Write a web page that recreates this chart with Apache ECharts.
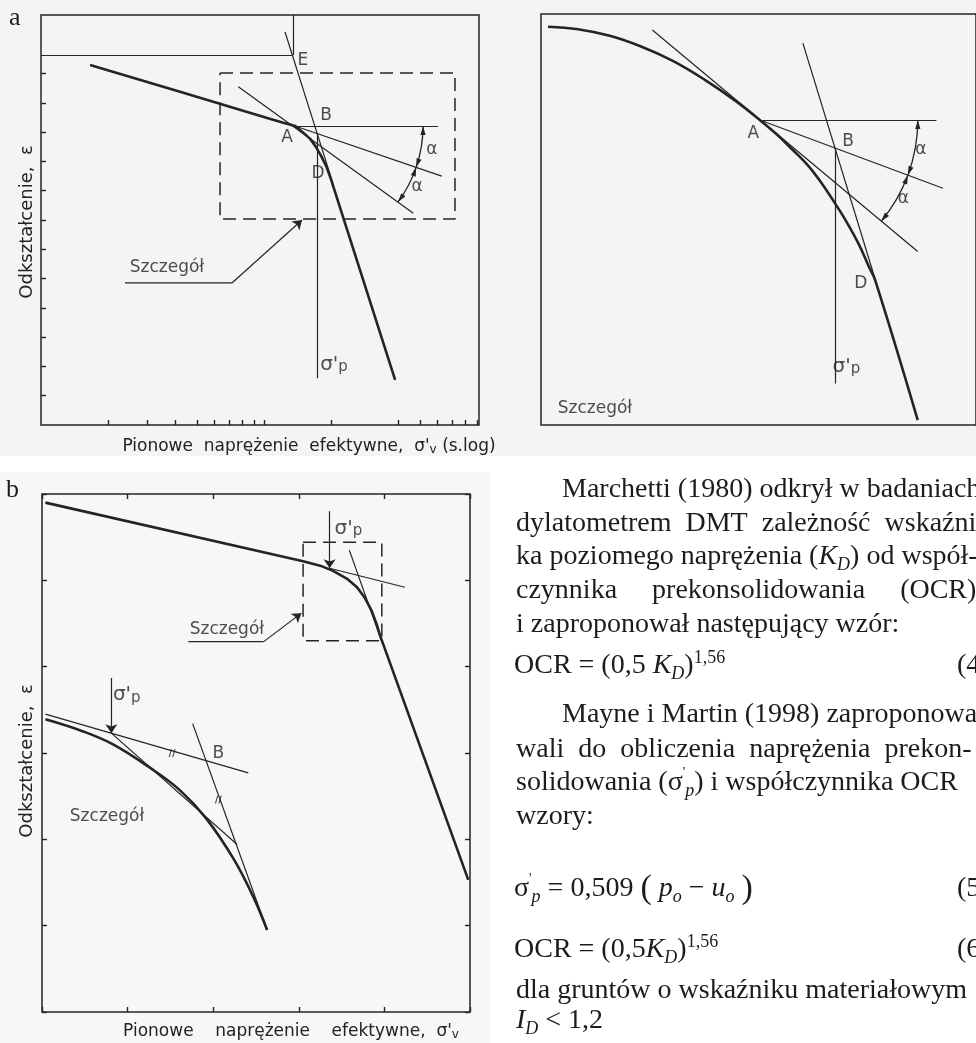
<!DOCTYPE html>
<html>
<head>
<meta charset="utf-8">
<script src="https://cdn.jsdelivr.net/npm/echarts@6.0.0/dist/echarts.min.js"></script>
<style>
  html, body { margin: 0; padding: 0; background: #fff; }
  #chart { width: 976px; height: 1043px; }
</style>
</head>
<body>
<div id="chart"></div>
<script>
const INK = '#242424';
const figFont = "'DejaVu Sans', 'Liberation Sans', sans-serif";
const textFont = "'Liberation Serif', 'Times New Roman', serif";

// ---- panel a: log stress (x) vs strain (y, downwards) ----
const aTickX = [2, 3, 4, 5, 6, 7, 8, 9, 10, 20, 40, 50, 60, 70, 80, 90];
const aTickY = [2, 3, 4, 5, 6, 7, 8, 9, 10, 11, 12, 13];
const aCurveX = [1.66, 4.2, 10.6, 12.2, 13.8, 14.9, 16.1, 17.1, 18.0, 19.0, 20.0, 38.7];
const aCurveY = [1.71, 2.62, 3.54, 3.68, 3.79, 4.00, 4.23, 4.51, 4.80, 5.16, 5.63, 12.46];
// thin construction lines: [x1, y1, x2, y2]
const aThin = [
  [1, 1.37, 13.5, 1.37],      // e0 to E
  [13.5, 0, 13.5, 1.37],
  [12.42, 0.58, 20.38, 5.76], // virgin line through E
  [13.77, 3.79, 60.3, 3.79],  // horizontal at A
  [7.67, 2.45, 46.7, 6.77],   // tangent at A
  [13.77, 3.79, 62.6, 5.5],   // bisector
  [17.31, 4.05, 17.31, 12.4]  // sigma'p
];
const aBox = [[6.35, 1.98], [71.8, 1.98], [71.8, 6.97], [6.35, 6.97], [6.35, 1.98]];
const aLeader = [[2.38, 9.15], [7.18, 9.15]];
const aArrows = [[7.18, 9.15, 14.8, 7.0]];
// A, end of horizontal, end of bisector, end of tangent
const aAngle = [13.77, 3.79, 60.3, 3.79, 62.6, 5.5, 46.7, 6.77];
const aLabelText = ['E', 'B', 'A', 'D', 'α', 'α', "{g|σ'}{s|p}", 'Szczegół'];
const aLabelX = [14.95, 18.96, 12.67, 17.46, 56.6, 48.5, 20.6, 3.67];
const aLabelY = [1.54, 3.42, 4.17, 5.40, 4.61, 5.87, 11.95, 8.64];

// ---- detail panel (top right) ----
const dCurveX = [1.6, 8.5, 15.8, 23.0, 30.3, 37.5, 44.8, 50.3, 54.3, 57.9, 61.5, 64.4, 67.3, 70.2, 73.1, 75.3, 76.8, 86.6];
const dCurveY = [3.1, 3.7, 5.3, 7.9, 11.4, 15.9, 21.2, 25.8, 29.4, 33.1, 37.0, 41.0, 45.6, 50.5, 56.1, 61.3, 64.7, 98.8];
const dThin = [
  [25.6, 3.9, 86.6, 57.8],   // tangent at A
  [50.3, 25.8, 90.9, 25.8],  // horizontal
  [50.3, 25.8, 92.4, 42.4],  // bisector
  [60.2, 7.1, 77.1, 65.5],   // virgin line
  [67.6, 32.6, 67.6, 89.9]   // sigma'p
];
const dAngle = [50.3, 25.8, 90.9, 25.8, 92.4, 42.4, 86.6, 57.8];
const dLabelText = ['A', 'B', 'D', 'α', 'α', "{g|σ'}{s|p}", 'Szczegół'];
const dLabelX = [48.8, 70.6, 73.5, 87.3, 83.3, 70.2, 12.4];
const dLabelY = [29.0, 31.1, 65.5, 33.1, 44.9, 85.8, 95.9];

// ---- panel b: linear stress vs strain ----
const bCurveX = [0.04, 3.05, 3.25, 3.40, 3.56, 3.68, 3.77, 3.85, 3.91, 3.95, 4.98];
const bCurveY = [0.10, 0.78, 0.83, 0.89, 0.98, 1.08, 1.20, 1.35, 1.51, 1.64, 4.47];
const bInsetX = [0.04, 0.48, 0.83, 1.26, 1.61, 1.92, 2.24, 2.47, 2.63];
const bInsetY = [2.61, 2.75, 2.90, 3.17, 3.43, 3.76, 4.23, 4.67, 5.05];
const bThin = [
  [3.36, 0.86, 4.24, 1.08],  // upper line extension
  [3.59, 0.65, 3.98, 1.74],  // steep tangent
  [0.04, 2.55, 2.41, 3.23],  // inset upper tangent
  [0.81, 2.77, 2.28, 4.06],  // inset chord
  [1.76, 2.66, 2.63, 5.05]   // inset steep line
];
const bBox = [[3.05, 0.56], [3.97, 0.56], [3.97, 1.70], [3.05, 1.70], [3.05, 0.56]];
const bLeader = [[1.71, 1.71], [2.59, 1.71]];
const bArrows = [
  [3.36, 0.20, 3.36, 0.86],
  [0.81, 2.13, 0.81, 2.77],
  [2.59, 1.71, 3.03, 1.38]
];
const bMarkX = [1.52, 2.06];
const bMarkY = [3.00, 3.54];
const bLabelText = ["{g|σ'}{s|p}", "{g|σ'}{s|p}", 'B', 'Szczegół', 'Szczegół'];
const bLabelX = [3.58, 0.99, 2.06, 2.16, 0.76];
const bLabelY = [0.40, 2.33, 3.01, 1.57, 3.74];

const zip = (xs, ys) => xs.map((x, i) => [x, ys[i]]);
const segs = list => list.map(s => ({ coords: [[s[0], s[1]], [s[2], s[3]]] }));

function arrowHead(c, r, a, dir) {
  const tip = [c[0] + r * Math.cos(a), c[1] + r * Math.sin(a)];
  const tx = -Math.sin(a) * dir, ty = Math.cos(a) * dir;
  const len = 9, half = 2.6;
  const bx = tip[0] - tx * len, by = tip[1] - ty * len;
  const nx = Math.cos(a), ny = Math.sin(a);
  return {
    type: 'polygon',
    shape: { points: [tip, [bx + nx * half, by + ny * half], [bx - nx * half, by - ny * half]] },
    style: { fill: INK }
  };
}

// two alpha arcs round A, arrows at every end
function arcRenderer(radius) {
  return function (params, api) {
    const c = api.coord([api.value(0), api.value(1)]);
    const ang = [2, 4, 6].map(k => {
      const p = api.coord([api.value(k), api.value(k + 1)]);
      return Math.atan2(p[1] - c[1], p[0] - c[0]);
    });
    const children = [];
    for (let s = 0; s < 2; s++) {
      children.push({
        type: 'arc',
        shape: { cx: c[0], cy: c[1], r: radius, startAngle: ang[s], endAngle: ang[s + 1], clockwise: true },
        style: { stroke: INK, fill: 'none', lineWidth: 1.3 }
      });
      children.push(arrowHead(c, radius, ang[s], -1));
      children.push(arrowHead(c, radius, ang[s + 1], 1));
    }
    return { type: 'group', children: children };
  };
}

function curve(xi, yi, data, width, smooth) {
  return {
    type: 'line', xAxisIndex: xi, yAxisIndex: yi, data: data,
    symbol: 'none', smooth: smooth || false,
    lineStyle: { color: INK, width: width }, silent: true, z: 4
  };
}
function thin(xi, yi, list, arrow) {
  return {
    type: 'lines', coordinateSystem: 'cartesian2d', xAxisIndex: xi, yAxisIndex: yi,
    data: segs(list), symbol: arrow ? ['none', 'arrow'] : ['none', 'none'], symbolSize: 9,
    lineStyle: { color: INK, width: 1.2, opacity: 1 }, silent: true, z: 3
  };
}
function dashed(xi, yi, data) {
  return {
    type: 'line', xAxisIndex: xi, yAxisIndex: yi, data: data, symbol: 'none',
    lineStyle: { color: INK, width: 1.5, type: [13, 7] }, silent: true, z: 3
  };
}
function labels(xi, yi, names, xs, ys) {
  return {
    type: 'scatter', xAxisIndex: xi, yAxisIndex: yi, symbolSize: 0, silent: true, z: 5,
    data: names.map((n, i) => ({ name: n, value: [xs[i], ys[i]] })),
    label: {
      show: true, position: 'inside', formatter: p => p.name, color: '#222',
      fontFamily: figFont, fontSize: 17,
      rich: {
        g: { fontFamily: figFont, fontSize: 20, color: '#222' },
        s: { fontFamily: figFont, fontSize: 15, color: '#222', verticalAlign: 'bottom', lineHeight: 14, padding: [9, 0, 0, 0] }
      }
    }
  };
}

const tick = { show: true, inside: true, length: 5, lineStyle: { color: INK, width: 1.4 } };
const bare = { axisLine: { show: false, onZero: false }, axisLabel: { show: false }, splitLine: { show: false } };
const frame = { show: true, borderColor: INK, borderWidth: 1.5, backgroundColor: 'transparent' };

const figRich = {
  v: { fontFamily: figFont, fontSize: 12, fill: '#222', verticalAlign: 'bottom', lineHeight: 12, padding: [7, 0, 0, 0] }
};
const pageRich = {
  i: { fontFamily: textFont, fontSize: 28, fontStyle: 'italic', fill: '#1c1c1c' },
  sub: { fontFamily: textFont, fontSize: 18, fontStyle: 'italic', fill: '#1c1c1c', verticalAlign: 'bottom', lineHeight: 18 },
  sup: { fontFamily: textFont, fontSize: 18, fill: '#1c1c1c', verticalAlign: 'top', lineHeight: 18 },
  pr: { fontFamily: textFont, fontSize: 14, fill: '#1c1c1c', verticalAlign: 'top', lineHeight: 22 },
  big: { fontFamily: textFont, fontSize: 34, fill: '#1c1c1c' }
};

function pageLine(x, y, text) {
  return {
    type: 'text', x: x, y: y, silent: true,
    style: {
      text: text, fontFamily: textFont, fontSize: 28, fill: '#1c1c1c',
      verticalAlign: 'middle', lineHeight: 34, rich: pageRich
    }
  };
}
function figText(x, y, text, rot, size) {
  return {
    type: 'text', x: x, y: y, rotation: rot || 0, silent: true,
    style: {
      text: text, fontFamily: figFont, fontSize: size || 17, fill: '#222',
      align: 'center', verticalAlign: 'middle', rich: figRich
    }
  };
}

const chart = echarts.init(document.getElementById('chart'), null, { renderer: 'canvas' });

chart.setOption({
  animation: false,
  backgroundColor: '#ffffff',
  grid: [
    Object.assign({ left: 41, top: 15, width: 438, height: 410 }, frame),
    Object.assign({ left: 541, top: 14, width: 459, height: 411 }, frame),
    Object.assign({ left: 42, top: 494, width: 428, height: 518 }, frame)
  ],
  xAxis: [
    Object.assign({ gridIndex: 0, type: 'log', logBase: 10, min: 1, max: 92, position: 'bottom',
      axisTick: Object.assign({ customValues: aTickX }, tick) }, bare),
    { gridIndex: 1, type: 'value', min: 0, max: 100, show: false },
    Object.assign({ gridIndex: 2, type: 'value', min: 0, max: 5, interval: 1, position: 'bottom', axisTick: tick }, bare),
    Object.assign({ gridIndex: 2, type: 'value', min: 0, max: 5, interval: 1, position: 'top', axisTick: tick }, bare)
  ],
  yAxis: [
    Object.assign({ gridIndex: 0, type: 'value', min: 0, max: 14, inverse: true, position: 'left',
      axisTick: Object.assign({ customValues: aTickY }, tick) }, bare),
    { gridIndex: 1, type: 'value', min: 0, max: 100, inverse: true, show: false },
    Object.assign({ gridIndex: 2, type: 'value', min: 0, max: 6, interval: 1, inverse: true, position: 'left', axisTick: tick }, bare),
    Object.assign({ gridIndex: 2, type: 'value', min: 0, max: 6, interval: 1, inverse: true, position: 'right', axisTick: tick }, bare)
  ],
  series: [
    // panel a
    curve(0, 0, zip(aCurveX, aCurveY), 2.6),
    thin(0, 0, aThin),
    thin(0, 0, aArrows, true),
    dashed(0, 0, aBox),
    curve(0, 0, aLeader, 1.2),
    { type: 'custom', coordinateSystem: 'cartesian2d', xAxisIndex: 0, yAxisIndex: 0,
      renderItem: arcRenderer(128), data: [aAngle], silent: true, z: 3 },
    labels(0, 0, aLabelText, aLabelX, aLabelY),
    // detail
    curve(1, 1, zip(dCurveX, dCurveY), 2.6, 0.4),
    thin(1, 1, dThin),
    { type: 'custom', coordinateSystem: 'cartesian2d', xAxisIndex: 1, yAxisIndex: 1,
      renderItem: arcRenderer(158), data: [dAngle], silent: true, z: 3 },
    labels(1, 1, dLabelText, dLabelX, dLabelY),
    // panel b
    curve(2, 2, zip(bCurveX, bCurveY), 2.6),
    curve(2, 2, zip(bInsetX, bInsetY), 2.6, 0.4),
    thin(2, 2, bThin),
    thin(2, 2, bArrows, true),
    dashed(2, 2, bBox),
    curve(2, 2, bLeader, 1.2),
    { type: 'scatter', xAxisIndex: 2, yAxisIndex: 2, silent: true, z: 5,
      symbol: 'path://M2,0 L3,0 L1,8 L0,8 Z M5,0 L6,0 L4,8 L3,8 Z', symbolSize: [7, 8],
      itemStyle: { color: INK }, data: zip(bMarkX, bMarkY) },
    labels(2, 2, bLabelText, bLabelX, bLabelY)
  ],
  graphic: [
    { type: 'rect', z: -10, silent: true, shape: { x: 0, y: 0, width: 976, height: 456 }, style: { fill: '#f4f4f4' } },
    { type: 'rect', z: -10, silent: true, shape: { x: 0, y: 472, width: 490, height: 571 }, style: { fill: '#f7f7f7' } },
    { type: 'text', x: 9, y: 5, silent: true, style: { text: 'a', fontFamily: textFont, fontSize: 26, fill: '#1c1c1c' } },
    { type: 'text', x: 6, y: 477, silent: true, style: { text: 'b', fontFamily: textFont, fontSize: 26, fill: '#1c1c1c' } },
    figText(27, 222, 'Odkształcenie,  ε', Math.PI / 2, 18),
    figText(309, 447, "Pionowe  naprężenie  efektywne,  σ'{v|v} (s.log)"),
    figText(27, 761, 'Odkształcenie,  ε', Math.PI / 2, 18),
    figText(291, 1032, "Pionowe    naprężenie    efektywne,  σ'{v|v}"),
    pageLine(562, 490, 'Marchetti (1980) odkrył w badaniach'),
    pageLine(516, 523.5, 'dylatometrem  DMT  zależność  wskaźni-'),
    pageLine(516, 557, 'ka poziomego naprężenia ({i|K}{sub|D}) od współ-'),
    pageLine(516, 591, 'czynnika     prekonsolidowania     (OCR)'),
    pageLine(516, 625, 'i zaproponował następujący wzór:'),
    pageLine(514, 666, 'OCR = (0,5 {i|K}{sub|D}){sup|1,56}'),
    pageLine(957, 666, '(4)'),
    pageLine(562, 715, 'Mayne i Martin (1998) zaproponowa-'),
    pageLine(516, 750, 'wali  do  obliczenia  naprężenia  prekon-'),
    pageLine(516, 783, "solidowania (σ{pr|'}{sub|p}) i współczynnika OCR"),
    pageLine(516, 817, 'wzory:'),
    pageLine(514, 889, "σ{pr|'}{sub|p} = 0,509 {big|(} {i|p}{sub|o} − {i|u}{sub|o} {big|)}"),
    pageLine(957, 889, '(5)'),
    pageLine(514, 950, 'OCR = (0,5{i|K}{sub|D}){sup|1,56}'),
    pageLine(957, 950, '(6)'),
    pageLine(516, 991, 'dla gruntów o wskaźniku materiałowym'),
    pageLine(516, 1021, '{i|I}{sub|D} < 1,2')
  ]
});
</script>
</body>
</html>
